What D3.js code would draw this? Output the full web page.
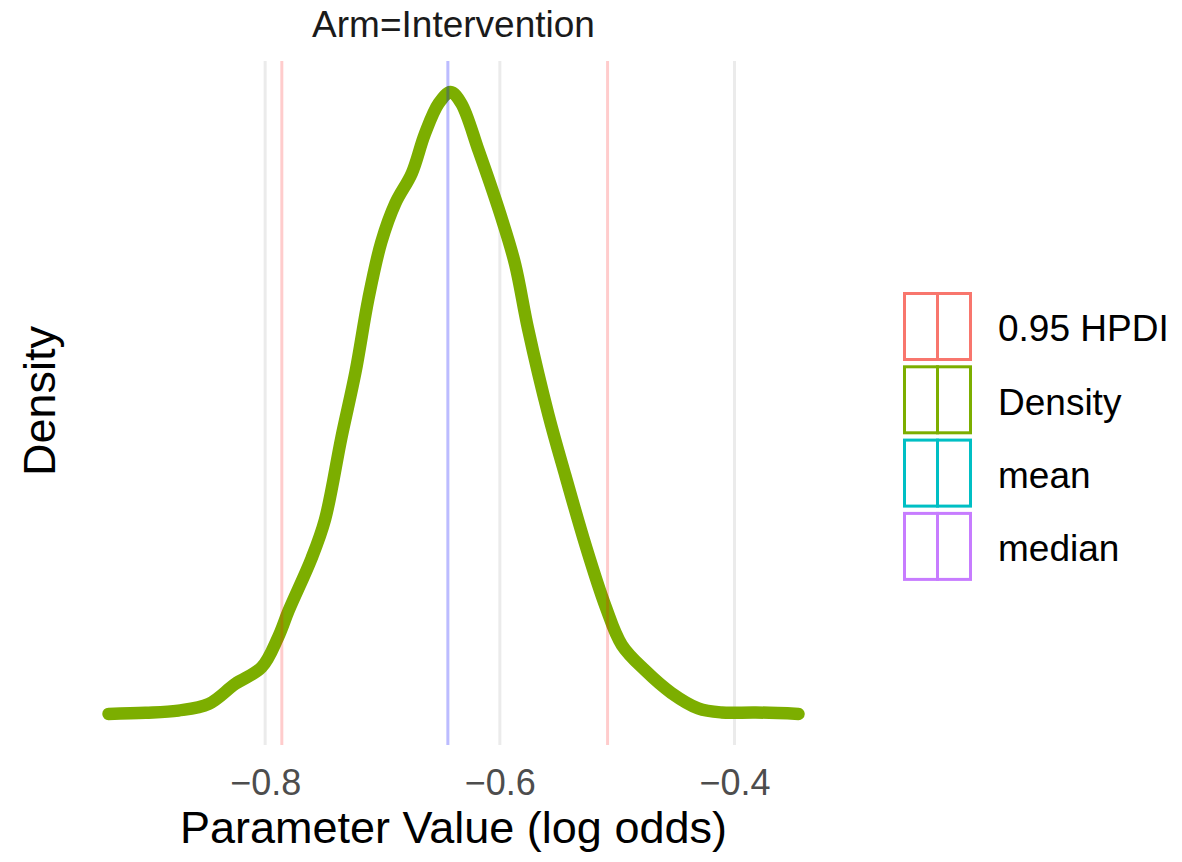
<!DOCTYPE html>
<html>
<head>
<meta charset="utf-8">
<script src="https://cdn.jsdelivr.net/npm/d3@7"></script>
<style>
  html, body { margin: 0; padding: 0; background: #fff; }
  text { font-family: "Liberation Sans", Arial, Helvetica, sans-serif; }
</style>
</head>
<body>
<svg id="chart" width="1182" height="862"></svg>
<script>
// ---- data ----
const densityX = [-0.9335, -0.902, -0.874, -0.848, -0.8255, -0.803, -0.789, -0.780, -0.7605, -0.749,
  -0.735, -0.723, -0.712, -0.701, -0.689, -0.675, -0.664, -0.652, -0.642, -0.633, -0.618, -0.599,
  -0.587, -0.576, -0.5585, -0.544, -0.527, -0.510, -0.496, -0.476, -0.454, -0.431, -0.411, -0.382, -0.3455];
const densityY = [0.00, 0.01, 0.03, 0.09, 0.27, 0.42, 0.69, 0.93, 1.40, 1.75,
  2.49, 3.08, 3.74, 4.25, 4.60, 4.87, 5.22, 5.50, 5.60, 5.50, 5.07, 4.48,
  4.05, 3.47, 2.69, 2.14, 1.52, 0.97, 0.62, 0.39, 0.19, 0.05, 0.013, 0.013, 0.00];
const hpdiBounds = [-0.7858, -0.5082];
const meanValue = -0.6443;
const medianValue = -0.6443;
const xTicks = [-0.8, -0.6, -0.4];
const legendLabels = ["0.95 HPDI", "Density", "mean", "median"];
const legendColors = ["#F8766D", "#7CAE00", "#00BFC4", "#C77CFF"];
const titleText = "Arm=Intervention";
const xTitle = "Parameter Value (log odds)";
const yTitle = "Density";

// ---- layout ----
const svg = d3.select("#chart");
const panel = { left: 74, right: 833, top: 61, bottom: 745 };

const xExt = d3.extent(densityX);
const xPad = (xExt[1] - xExt[0]) * 0.05;
const x = d3.scaleLinear().domain([xExt[0] - xPad, xExt[1] + xPad]).range([panel.left, panel.right]);
const yMax = d3.max(densityY);
const y = d3.scaleLinear().domain([-yMax * 0.05, yMax * 1.05]).range([panel.bottom, panel.top]);

// gridlines
svg.append("g").selectAll("line").data(xTicks).join("line")
  .attr("x1", d => x(d)).attr("x2", d => x(d))
  .attr("y1", panel.top).attr("y2", panel.bottom)
  .attr("stroke", "#EBEBEB").attr("stroke-width", 3);

// density line
const pts = densityX.map((d, i) => [d, densityY[i]]);
svg.append("path").datum(pts)
  .attr("fill", "none")
  .attr("stroke", "#7CAE00")
  .attr("stroke-width", 12.5)
  .attr("stroke-linecap", "round")
  .attr("stroke-linejoin", "round")
  .attr("d", d3.line().x(d => x(d[0])).y(d => y(d[1])).curve(d3.curveCatmullRom.alpha(0.5)));

// HPDI lines
svg.append("g").selectAll("line").data(hpdiBounds).join("line")
  .attr("x1", d => x(d)).attr("x2", d => x(d))
  .attr("y1", panel.top).attr("y2", panel.bottom)
  .attr("stroke", "#FF0000").attr("stroke-opacity", 0.2).attr("stroke-width", 3);

// mean & median lines (overlapping)
[meanValue, medianValue].forEach(v => {
  svg.append("line")
    .attr("x1", x(v)).attr("x2", x(v))
    .attr("y1", panel.top).attr("y2", panel.bottom)
    .attr("stroke", "#0000FF").attr("stroke-opacity", 0.14).attr("stroke-width", 3);
});

// x axis tick labels
const xAxis = d3.axisBottom(x).tickValues(xTicks).tickSize(0).tickPadding(0)
  .tickFormat(d => d3.format(".1f")(d).replace("-", "\u2212"));
const gx = svg.append("g").attr("transform", `translate(0,795)`).call(xAxis);
gx.select(".domain").remove();
gx.selectAll("text")
  .attr("dy", null).attr("y", 0)
  .attr("font-size", 36)
  .attr("fill", "#4D4D4D")
  .style("font-family", "'Liberation Sans', Arial, sans-serif");

// axis titles
svg.append("text").attr("x", x.range()[0] / 2 + x.range()[1] / 2).attr("y", 843)
  .attr("text-anchor", "middle").attr("font-size", 45).attr("fill", "#000").text(xTitle);
svg.append("text").attr("transform", "translate(55,401) rotate(-90)")
  .attr("text-anchor", "middle").attr("font-size", 45).attr("fill", "#000").text(yTitle);

// title
svg.append("text").attr("x", (panel.left + panel.right) / 2).attr("y", 37)
  .attr("text-anchor", "middle").attr("font-size", 37).attr("fill", "#1a1a1a").text(titleText);

// legend
const lg = svg.append("g");
const keyX = 903, keyW = 69, keyH = 69, keyTop = 292, keyStep = 73.3;
legendLabels.forEach((lab, i) => {
  const ty = keyTop + i * keyStep;
  lg.append("rect").attr("x", keyX + 1.5).attr("y", ty + 1.5)
    .attr("width", keyW - 3).attr("height", keyH - 3)
    .attr("fill", "none").attr("stroke", legendColors[i]).attr("stroke-width", 3);
  lg.append("line").attr("x1", keyX + keyW / 2).attr("x2", keyX + keyW / 2)
    .attr("y1", ty).attr("y2", ty + keyH)
    .attr("stroke", legendColors[i]).attr("stroke-width", 3);
  lg.append("text").attr("x", 998).attr("y", ty + keyH / 2)
    .attr("dy", "0.4em").attr("font-size", 37).attr("fill", "#000").text(lab);
});
</script>
</body>
</html>
